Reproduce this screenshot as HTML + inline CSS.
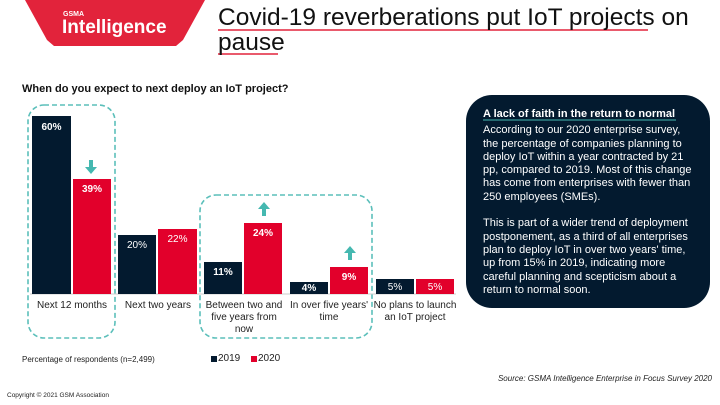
<!DOCTYPE html><html><head><style>
body{margin:0;width:720px;height:405px;background:#fff;font-family:"Liberation Sans",sans-serif;position:relative;overflow:hidden}
.a{position:absolute}
.b{position:absolute;text-align:center;font-size:10px;color:#fff}
.l{position:absolute;text-align:center;font-size:10px;color:#222;line-height:12px;white-space:nowrap}
</style></head><body>
<svg class="a" style="left:0;top:0" width="720" height="405">
<polygon points="25,0 205,0 183,40 176,46 54,46 47,40" fill="#e2233b"/>
<rect x="28" y="105" width="87" height="233" rx="16" fill="none" stroke="#5bbfba" stroke-width="1.6" stroke-dasharray="5,3"/>
<rect x="200" y="195" width="172" height="143" rx="16" fill="none" stroke="#5bbfba" stroke-width="1.6" stroke-dasharray="5,3"/>
<line x1="30" y1="294" x2="456" y2="294" stroke="#ccc"/>
<g fill="#031a2f">
<rect x="32" y="116" width="39" height="178"/>
<rect x="118" y="235" width="38" height="59"/>
<rect x="204" y="262" width="38" height="32"/>
<rect x="290" y="282" width="38" height="12"/>
<rect x="376" y="279" width="38" height="15"/>
</g>
<g fill="#e2002b">
<rect x="73" y="179" width="38" height="115"/>
<rect x="158" y="229" width="39" height="65"/>
<rect x="244" y="223" width="38" height="71"/>
<rect x="330" y="267" width="38" height="27"/>
<rect x="416" y="279" width="38" height="15"/>
</g>
<g fill="#45b8b0">
<rect x="89" y="160" width="4" height="8"/><polygon points="85,167 97,167 91,174"/>
<rect x="262" y="208" width="4" height="8"/><polygon points="258,209 270,209 264,202"/>
<rect x="348" y="252" width="4" height="8"/><polygon points="344,253 356,253 350,246"/>
</g>
<rect x="466" y="95" width="244" height="213" rx="26" fill="#031a2f"/>
<line x1="218" y1="30" x2="648" y2="30" stroke="#e2233b" stroke-width="1.5"/>
<line x1="218" y1="54" x2="278" y2="54" stroke="#e2233b" stroke-width="1.5"/>
<line x1="483" y1="120" x2="676" y2="120" stroke="#45b8b0" stroke-width="1"/>
<rect x="211" y="356" width="6" height="6" fill="#031a2f"/>
<rect x="251" y="356" width="6" height="6" fill="#e2002b"/>
</svg>
<div class="a" style="left:63px;top:11px;color:#fff;font-size:7px;font-weight:bold">GSMA</div>
<div class="a" style="left:62px;top:17px;color:#fff;font-size:19px;font-weight:bold">Intelligence</div>
<div class="a" style="left:218px;top:5px;font-size:24.5px;line-height:25px;color:#111;white-space:nowrap">Covid-19 reverberations put IoT projects on<br>pause</div>
<div class="a" style="left:22px;top:83px;font-size:11px;font-weight:bold;color:#111">When do you expect to next deploy an IoT project?</div>
<div class="b" style="left:32px;top:122px;width:39px;font-weight:bold">60%</div>
<div class="b" style="left:73px;top:184px;width:38px;font-weight:bold">39%</div>
<div class="b" style="left:118px;top:240px;width:38px">20%</div>
<div class="b" style="left:158px;top:234px;width:39px">22%</div>
<div class="b" style="left:204px;top:267px;width:38px;font-weight:bold">11%</div>
<div class="b" style="left:244px;top:228px;width:38px;font-weight:bold">24%</div>
<div class="b" style="left:290px;top:283px;width:38px;font-weight:bold">4%</div>
<div class="b" style="left:330px;top:272px;width:38px;font-weight:bold">9%</div>
<div class="b" style="left:376px;top:282px;width:38px">5%</div>
<div class="b" style="left:416px;top:282px;width:38px">5%</div>
<div class="l" style="left:30px;top:300px;width:84px">Next 12 months</div>
<div class="l" style="left:116px;top:300px;width:84px">Next two years</div>
<div class="l" style="left:199px;top:300px;width:90px">Between two and<br>five years from<br>now</div>
<div class="l" style="left:286px;top:300px;width:86px">In over five years'<br>time</div>
<div class="l" style="left:372px;top:300px;width:86px">No plans to launch<br>an IoT project</div>
<div class="a" style="left:22px;top:355px;font-size:8px;color:#222">Percentage of respondents (n=2,499)</div>
<div class="a" style="left:218px;top:353px;font-size:10px;color:#222">2019</div>
<div class="a" style="left:258px;top:353px;font-size:10px;color:#222">2020</div>
<div class="a" style="left:7px;top:392px;font-size:6.5px;color:#222">Copyright © 2021 GSM Association</div>
<div class="a" style="right:8px;top:374px;font-size:8px;font-style:italic;color:#222">Source: GSMA Intelligence Enterprise in Focus Survey 2020</div>
<div class="a" style="left:483px;top:108px;width:225px;font-size:11px;line-height:13.3px;color:#fff;white-space:nowrap"><b>A lack of faith in the return to normal</b><div style="margin-top:3px">According to our 2020 enterprise survey,<br>the percentage of companies planning to<br>deploy IoT within a year contracted by 21<br>pp, compared to 2019. Most of this change<br>has come from enterprises with fewer than<br>250 employees (SMEs).<br><br>This is part of a wider trend of deployment<br>postponement, as a third of all enterprises<br>plan to deploy IoT in over two years' time,<br>up from 15% in 2019, indicating more<br>careful planning and scepticism about a<br>return to normal soon.</div></div>
</body></html>
